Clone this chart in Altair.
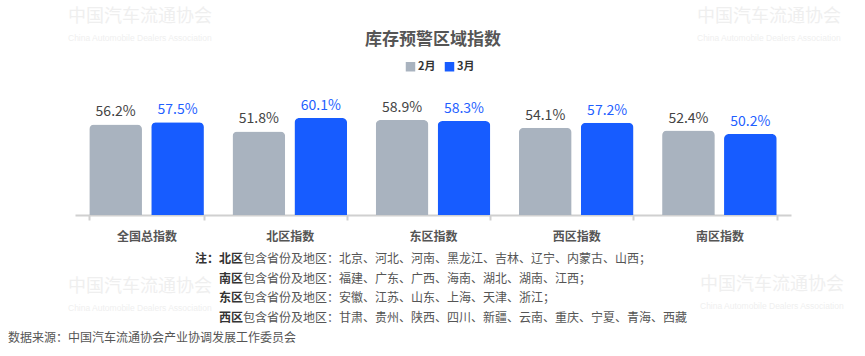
import altair as alt
import pandas as pd

categories = ["全国总指数", "北区指数", "东区指数", "西区指数", "南区指数"]
months = ["2月", "3月"]
feb_values = [56.2, 51.8, 58.9, 54.1, 52.4]
mar_values = [57.5, 60.1, 58.3, 57.2, 50.2]

note_keys = ["北区", "南区", "东区", "西区"]
note_texts = [
    "包含省份及地区：北京、河北、河南、黑龙江、吉林、辽宁、内蒙古、山西；",
    "包含省份及地区：福建、广东、广西、海南、湖北、湖南、江西；",
    "包含省份及地区：安徽、江苏、山东、上海、天津、浙江；",
    "包含省份及地区：甘肃、贵州、陕西、四川、新疆、云南、重庆、宁夏、青海、西藏",
]
note_prefix = "注："
source_text = "数据来源：中国汽车流通协会产业协调发展工作委员会"
title_text = "库存预警区域指数"
watermark_cn = "中国汽车流通协会"
watermark_en = "China Automobile Dealers Association"

FONT = "Noto Sans CJK SC"
GRAY = "#a9b3bf"
BLUE = "#175cff"

rows = []
for c, f, m in zip(categories, feb_values, mar_values):
    rows.append({"region": c, "month": "2月", "value": f, "label": f"{f:.1f}%"})
    rows.append({"region": c, "month": "3月", "value": m, "label": f"{m:.1f}%"})
df = pd.DataFrame(rows)

# faint watermarks (pixel placement, decoration only)
wm_df = pd.DataFrame({
    "cn": [watermark_cn] * 4,
    "en": [watermark_en] * 4,
    "px": [-7, 622, -7, 625],
    "pcy": [-69, -69, 201, 199],
    "pey": [-48, -48, 222, 220],
})

wm_cn = alt.Chart(wm_df).mark_text(
    align="left", baseline="middle", fontSize=18, font=FONT, color="#efefef"
).encode(text="cn:N", x=alt.X("px:Q", scale=None), y=alt.Y("pcy:Q", scale=None))
wm_en = alt.Chart(wm_df).mark_text(
    align="left", baseline="middle", fontSize=8.5, font="Liberation Sans", color="#efefef"
).encode(text="en:N", x=alt.X("px:Q", scale=None), y=alt.Y("pey:Q", scale=None))

title_layer = alt.Chart(pd.DataFrame({"t": [title_text]})).mark_text(
    align="center", baseline="middle", fontSize=17, fontWeight="bold", font=FONT, color="#555555"
).encode(text="t:N", x=alt.value(358), y=alt.value(-46))

base = alt.Chart(df).encode(
    x=alt.X(
        "region:N",
        sort=categories,
        scale=alt.Scale(paddingInner=0.2, paddingOuter=0.1),
        axis=alt.Axis(
            title=None, labelAngle=0, labelFontSize=12, labelFontWeight="bold",
            labelColor="#555555", labelFont=FONT, domainColor="#d0d0d0", domainWidth=2,
            tickColor="#d0d0d0", tickWidth=2, tickSize=5, tickBand="extent",
            labelPadding=11, grid=False,
        ),
    ),
    xOffset=alt.XOffset("month:N", sort=months, scale=alt.Scale(paddingInner=0.15, paddingOuter=0)),
    y=alt.Y("value:Q", scale=alt.Scale(domain=[0, 80]), axis=None),
)

shadow = base.mark_bar(
    cornerRadiusTopLeft=5, cornerRadiusTopRight=5, color="#000000", opacity=0.10,
    xOffset=2, yOffset=1,
)

bars = base.mark_bar(cornerRadiusTopLeft=5, cornerRadiusTopRight=5).encode(
    color=alt.Color(
        "month:N",
        sort=months,
        scale=alt.Scale(domain=months, range=[GRAY, BLUE]),
        legend=alt.Legend(
            title=None, orient="none", legendX=330, legendY=-25, direction="horizontal",
            symbolType="square", symbolSize=90, symbolStrokeWidth=0,
            labelFontSize=11, labelFontWeight="bold", labelColor="#333333", labelFont=FONT,
            columnPadding=8, labelOffset=2,
        ),
    )
)

labels = base.mark_text(baseline="bottom", dy=-5, fontSize=14, font=FONT).encode(
    text="label:N",
    color=alt.condition(alt.datum.month == "3月", alt.value("#1f5fff"), alt.value("#444444")),
)

notes_df = pd.DataFrame({
    "key": note_keys,
    "text": note_texts,
    "yy": [173, 193, 212, 232],
})

prefix_layer = alt.Chart(pd.DataFrame({"t": [note_prefix]})).mark_text(
    align="left", baseline="middle", fontSize=12, fontWeight="bold", font=FONT, color="#333333"
).encode(text="t:N", x=alt.value(120), y=alt.value(173))

keys_layer = alt.Chart(notes_df).mark_text(
    align="left", baseline="middle", fontSize=12, fontWeight="bold", font=FONT, color="#333333"
).encode(text="key:N", x=alt.value(144), y=alt.Y("yy:Q", scale=None))

texts_layer = alt.Chart(notes_df).mark_text(
    align="left", baseline="middle", fontSize=12, font=FONT, color="#555555"
).encode(text="text:N", x=alt.value(168), y=alt.Y("yy:Q", scale=None))

source_layer = alt.Chart(pd.DataFrame({"t": [source_text]})).mark_text(
    align="left", baseline="middle", fontSize=12, font=FONT, color="#555555"
).encode(text="t:N", x=alt.value(-67), y=alt.value(252))

chart = alt.layer(
    wm_cn, wm_en, title_layer, shadow, bars, labels,
    prefix_layer, keys_layer, texts_layer, source_layer
).properties(
    width=716,
    height=129,
    padding={"left": 75, "top": 86, "right": 74, "bottom": 141},
    autosize=alt.AutoSizeParams(type="none"),
    background="white",
).configure_view(stroke=None)

chart.save("out.html", embed_options={"renderer": "svg", "actions": False})
